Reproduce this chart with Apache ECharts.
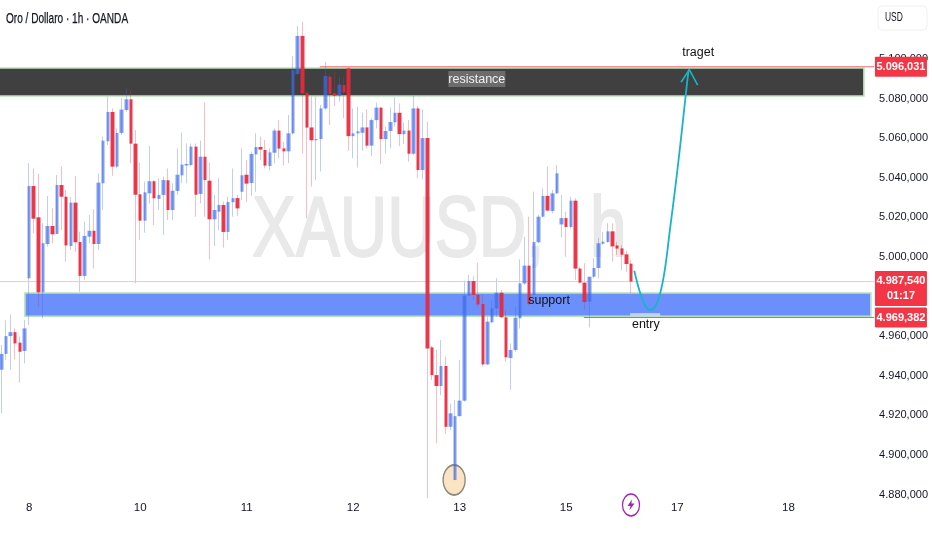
<!DOCTYPE html>
<html>
<head>
<meta charset="utf-8">
<style>html,body{margin:0;padding:0;background:#fff}#c{width:932px;height:550px}</style>
<script src="https://cdn.jsdelivr.net/npm/echarts@6/dist/echarts.min.js"></script>
</head>
<body>
<div id="c"></div>
<script>
const opens = [4943,4951,4960,4962,4956.7,4952.5,4989.2,5035.8,5020,4982.1,
5006.5,5015.6,5011.6,5036.3,5030.4,5005.5,5027.4,5007.5,4990.4,5010.2,
5013.2,5006.5,5037.2,5058.4,5073.2,5045.6,5062.6,5074.2,5079.6,5057.2,
5031.6,5018.3,5032.1,5038.2,5029.3,5031.3,5038.7,5023.7,5033.3,5041.2,
5046.2,5046.4,5055.7,5031.8,5050.6,5038.5,5019,5022.8,5026.2,5012.6,
5027.6,5029.7,5032.9,5041.5,5037.3,5051.8,5055.5,5054,5045.9,5052.6,
5063.8,5054.8,5053.3,5062.4,5092.4,5111.6,5082.9,5065.4,5058.9,5059.5,
5075,5091,5082.6,5081.4,5086.8,5095.2,5061,5062.4,5062.7,5065.4,
5056.2,5069.1,5075.4,5059.5,5063.6,5068,5072.8,5062,5063.8,5052.1,
5075,5043.9,5060,4954.3,4940.3,4934.8,4944.9,4914.2,4887.3,4919.6,
4927.4,4980.4,4987.8,4980.8,4976.2,4945.7,4967,4974,4981.9,4969.5,
4948.9,4953,4969,4986.6,4995.6,4980.8,5007.4,5020.3,5030.8,5023.2,
5032.1,5016.4,5019.6,5015.1,5028.4,4994.1,4987,4977.4,4990,4994.4,
5006.7,5007.5,5012.9,5005.8,5004.3,5001.3,4996.6];
const closes = [4951,4960,4962,4956.3,4952.1,4963.9,5035.8,5019.3,4982.1,5006.9,
5015.6,5011.4,5036.3,5030.4,5005.8,5027.4,5007.4,4990.4,5010.6,5013.2,
5006.5,5037.5,5058.7,5073.2,5045.6,5062.6,5074.4,5079.6,5057.2,5031.4,
5018.3,5032.6,5038.2,5029.6,5031.3,5038.8,5023.7,5033.4,5041.5,5046.6,
5046.9,5055.7,5031.4,5050.6,5038.8,5019,5023.7,5026.2,5012.6,5027.7,
5029.7,5024.5,5041.2,5037,5052,5055.5,5054.2,5046.1,5052.8,5063.8,
5054.7,5053.3,5062.4,5094.4,5111.6,5082.6,5065.3,5058.9,5059.5,5075,
5091.4,5082.3,5081.4,5087,5083.1,5061,5062.4,5063.4,5065.4,5056.2,
5069.1,5075.4,5059.5,5063.6,5068.1,5072.8,5062,5063.8,5052.1,5075,
5043.9,5060,4953.8,4940.3,4934.8,4944.9,4914.2,4921,4919.6,4927.4,
4980.4,4987.8,4980.8,4976,4945.7,4967.3,4974,4981.9,4969.5,4949.3,
4953,4969.3,4986.6,4995.6,4976.2,5007.5,5020.3,5030.8,5023.4,5032.1,
5042.2,5019.6,5015.1,5028.4,4994.1,4987,4977.2,4990,4994.4,5006.9,
5007.7,5012.9,5005.3,5004.2,5001.1,4996.4,4987.54];
const lows = [4921,4948,4943,4948.3,4936.5,4946.2,4965.6,5011.9,4974.9,4969,
5005.2,5006.9,5011.6,5013.6,4997.6,5003.5,5002.6,4982.4,4988.3,5006.9,
4994.2,5003.5,5023.7,5056.5,5040.9,5044.7,5061.6,5073.4,5047.3,4986.7,
5008.5,5012.2,5027,5016.1,5023.7,5011.1,5018.6,5018.6,5031.3,5037.2,
5037.2,5045.6,5020.3,5027,5020.3,4998.8,5005.5,5013.6,5004.7,5008.5,
5020.3,5020.6,5028.7,5027.9,5030.9,5032.9,5048.9,5044.7,5043.6,5047.3,
5049.8,5046.1,5047.3,5061.6,5091.9,5052.3,5019.5,5035.5,5038.8,5043.1,
5074.2,5066.6,5076.2,5078.4,5070,5053.5,5049.8,5045.2,5053.7,5054.8,
5051,5064.9,5046.9,5052.3,5054.8,5065.8,5056,5057,5048.1,5051.5,
5039.7,5039.2,4878,4937.8,4905.8,4930.2,4910.6,4912.6,4887.3,4919.3,
4926.9,4980.4,4978.2,4974.9,4944.6,4945.4,4966.4,4969.8,4969,4947.1,
4932.8,4952.1,4963.9,4985.8,4975.7,4979.9,5006.9,5020,5022.9,5022,
5031.8,5009.9,5000,5014.4,4988.3,4986.6,4973.2,4964.4,4989.2,4989.2,
5006,5007.2,4997.6,5001,4993.4,4992.5,4981.6];
const highs = [4955.5,4968,4971,4964,4959.7,4968.1,5047.3,5044.7,5041.9,5017,
5030.8,5024.5,5041.4,5045.6,5033.8,5030.4,5040.9,5012.7,5017.8,5021.2,
5024,5042.2,5060.7,5080.9,5075,5064.9,5080.1,5085.1,5084.3,5064.1,
5047.6,5038,5056,5038.8,5039.7,5040.5,5044.7,5037.2,5054.8,5062.7,
5057.3,5057.3,5057.3,5058.7,5077.9,5047.6,5031.3,5039.7,5027.9,5030.4,
5044.7,5031.3,5054.8,5048.9,5053.2,5062.4,5060.7,5059,5054.8,5064.9,
5069.1,5058.2,5071.7,5101.5,5116.6,5118.8,5082.9,5080.9,5080.9,5076.7,
5098.6,5092.7,5093.6,5091,5091,5095.6,5075,5075.9,5072.8,5074.5,
5070,5077.9,5075.5,5065.8,5075.5,5080.6,5077.6,5067.8,5069.1,5081.3,
5076.2,5074.5,5068.3,4955,4953,4958,4949.6,4926,4927.7,4947.9,
4988,4990.9,4990,4997.1,4980.8,4969.8,4978.2,4989.2,4983.3,4973.2,
4956.3,4974.9,4998.8,5010.2,5020.3,5032.9,5021.2,5034.6,5045.6,5033.8,
5046.4,5031.3,5022.8,5030.4,5029.6,4995.1,4996.8,4990,4999.3,5009.4,
5012.7,5017,5017,5007.7,5006,5003.1,4998.4];

const slotCount = 189;
const dayIndex = [6,30,53,76,99,122,146,170];
const dayLabels = ['8','10','11','12','13','15','17','18'];

const resistanceZone = [-0.5, 186.3, 5081.3, 5095.4];
const supportZone = [5.1, 187.8, 4970, 4981.8];
const entryPatch = [135.8, 142.3, 4970, 4971.6];

const curveX = [136.7,137.9,139.0,140.1,141.2,142.3,143.3,144.4,145.5,146.6,147.7,148.4,148.6];
const curveY = [4993.0,4982.4,4975.7,4973.2,4974.9,4981.6,4993.4,5013.6,5033.8,5055.7,5079.2,5093.5,5094.6];
const headX = [146.8,148.6,150.4];
const headY = [5088.2,5094.6,5086.8];

const noteTexts = ['traget','resistance','support','entry'];
const noteX = [150.5,102.7,118.3,139.2];
const noteY = [5103,5089.8,4978.2,4965.6];

const upperPrice = 5096.031, lastPrice = 4987.54, lowerPrice = 4969.382;
const upperFrom = 68.8, lowerFrom = 125.8, tagSlot = 194.3;
const countdown = '01:17';
const markerCircle = [97.8, 4887.3];
const boltPoint = [136, 4874.7];

const FONT = '"Liberation Sans",Arial,sans-serif';
const hiddenTicks = [5120, 4980];
const fmtTick = v => hiddenTicks.includes(v) ? '' : (v / 1000).toFixed(3) + ',000';

const slots = Array.from({length: slotCount}, (_, i) => 's' + i);
const wick = opens.map((o, i) => [o, closes[i], lows[i], highs[i]]);
const body = opens.map((o, i) => [o, closes[i], Math.min(o, closes[i]), Math.max(o, closes[i])]);
const zone = (z, fill, border) => [
  {coord: [z[0], z[3]], itemStyle: {color: fill, borderColor: border, borderWidth: border ? 1.6 : 0, opacity: 1}},
  {coord: [z[1], z[2]]}
];
const level = (name, from, p, color) => ({
  type: 'line', name, xAxisIndex: 1, z: 2.5, symbol: 'none', silent: true,
  data: [[from, p], [slotCount - 0.5, p]], lineStyle: {color, width: 1}
});
const tag = (p, text, off) => ({
  value: [tagSlot, p],
  label: {formatter: text, offset: [0, off]}
});

const chart = echarts.init(document.getElementById('c'), null, {renderer: 'canvas'});
chart.setOption({
  animation: false,
  backgroundColor: '#ffffff',
  grid: {left: -0.98, top: 19.3, width: 875.07, height: 475.2, containLabel: false, outerBoundsMode: 'none'},
  xAxis: [
    {
      type: 'category', data: slots, boundaryGap: true,
      axisLine: {show: false}, axisTick: {show: false}, splitLine: {show: false},
      axisLabel: {
        interval: i => dayIndex.includes(i),
        formatter: (v, i) => dayLabels[dayIndex.indexOf(i)] || '',
        color: '#131722', fontFamily: FONT, fontSize: 11.5, margin: 7
      }
    },
    {type: 'value', min: -0.5, max: slotCount - 0.5, show: false}
  ],
  yAxis: {
    type: 'value', position: 'right', min: 4880, max: 5120, interval: 20, scale: true,
    axisLine: {show: false}, axisTick: {show: false}, splitLine: {show: false},
    axisLabel: {formatter: fmtTick, margin: 5, color: '#131722', fontFamily: FONT, fontSize: 11}
  },
  graphic: [
    {type: 'text', z: 0, x: 252, y: 189, scaleX: 0.765, style: {text: 'XAUUSD,', font: '86px ' + FONT, fill: '#e9e9e9', stroke: '#e9e9e9', lineWidth: 2}},
    {type: 'text', z: 0, x: 590, y: 189, scaleX: 0.765, style: {text: 'h', font: '86px ' + FONT, fill: '#e9e9e9', stroke: '#e9e9e9', lineWidth: 2}},
    {type: 'text', z: 5, x: 6, y: 12, scaleX: 0.72, style: {text: 'Oro / Dollaro · 1h · OANDA', font: '14px ' + FONT, fill: '#131722', stroke: '#131722', lineWidth: 0.25}},
    {type: 'rect', z: 0, x: 878, y: 6, shape: {width: 49, height: 24, r: 4}, style: {fill: '#fff', stroke: '#f0f0f0'}},
    {type: 'text', z: 1, x: 885, y: 11, scaleX: 0.65, style: {text: 'USD', font: '13px ' + FONT, fill: '#131722'}}
  ],
  series: [
    {
      type: 'scatter', name: 'zones', xAxisIndex: 1, z: 1.8, clip: false, silent: true,
      data: [markerCircle], symbol: 'circle', symbolSize: [22, 30],
      itemStyle: {color: '#fbe4c4', borderColor: '#8c8a78', borderWidth: 1.6, opacity: 1},
      markArea: {
        silent: true,
        data: [
          zone(resistanceZone, '#404040', '#b8e2b6'),
          zone(supportZone, '#6b90fb', '#b8e2b6'),
          zone(entryPatch, '#c3d2fd', null)
        ]
      }
    },
    level('last', -0.5, lastPrice, '#f8c4c9'),
    level('upper', upperFrom, upperPrice, '#ee6a75'),
    level('lower', lowerFrom, lowerPrice, '#ee5a66'),
    {
      type: 'candlestick', name: 'wicks', z: 2, barWidth: 1, silent: true, data: wick,
      itemStyle: {
        color: 'rgba(62,107,236,0.33)', color0: 'rgba(232,40,60,0.3)',
        borderColor: 'rgba(62,107,236,0.33)', borderColor0: 'rgba(232,40,60,0.3)', borderWidth: 1
      }
    },
    {
      type: 'candlestick', name: 'bodies', z: 3, barWidth: 4, silent: true, data: body,
      itemStyle: {
        color: 'rgba(62,107,236,0.67)', color0: 'rgba(232,40,60,0.92)',
        borderColor: 'rgba(62,107,236,0.67)', borderColor0: 'rgba(232,40,60,0.92)', borderWidth: 0
      }
    },
    {
      type: 'line', name: 'plan', xAxisIndex: 1, z: 6, smooth: 0.4, symbol: 'none', silent: true,
      data: curveX.map((x, i) => [x, curveY[i]]),
      lineStyle: {color: '#18b4c9', width: 1.8}
    },
    {
      type: 'line', name: 'head', xAxisIndex: 1, z: 6, symbol: 'none', silent: true,
      data: headX.map((x, i) => [x, headY[i]]),
      lineStyle: {color: '#18b4c9', width: 1.6}
    },
    {
      type: 'scatter', name: 'notes', xAxisIndex: 1, z: 8, clip: false, silent: true,
      symbolSize: 1, itemStyle: {color: 'rgba(0,0,0,0)', opacity: 1},
      data: noteTexts.map((t, i) => {
        const isBox = t === 'resistance';
        return {
          value: [noteX[i], noteY[i]],
          label: {
            show: true, position: 'inside', formatter: t, fontFamily: FONT, fontSize: 12.5,
            color: isBox ? '#f0f0f0' : '#111111',
            backgroundColor: isBox ? '#6c6c6c' : 'transparent',
            padding: isBox ? [2, 0, 1, 0] : 0
          }
        };
      })
    },
    {
      type: 'scatter', name: 'tags', xAxisIndex: 1, z: 9, clip: false, silent: true,
      symbolSize: 1, itemStyle: {color: 'rgba(0,0,0,0)', opacity: 1},
      label: {
        show: true, position: 'inside', color: '#fff', fontFamily: FONT, fontSize: 11,
        fontWeight: 'bold', backgroundColor: '#f23645', width: 52, align: 'center',
        lineHeight: 15, padding: [3, 0, 2, 0], borderRadius: 1
      },
      data: [
        tag(upperPrice, '5.096,031', 0),
        tag(lastPrice, '4.987,540\n' + countdown, 7),
        tag(lowerPrice, '4.969,382', 0)
      ]
    },
    {
      type: 'scatter', name: 'boltRing', xAxisIndex: 1, z: 8, clip: false, silent: true,
      data: [boltPoint], symbol: 'circle', symbolSize: [17, 22],
      itemStyle: {color: '#fff', borderColor: '#9c27b0', borderWidth: 1.4, opacity: 1}
    },
    {
      type: 'scatter', name: 'bolt', xAxisIndex: 1, z: 9, clip: false, silent: true,
      data: [boltPoint],
      symbol: 'path://M6 0 L1 7 L4.5 7 L3 12 L9 4.5 L5.5 4.5 Z', symbolSize: [7, 11],
      itemStyle: {color: '#9c27b0', opacity: 1}
    }
  ]
});
</script>
</body>
</html>
